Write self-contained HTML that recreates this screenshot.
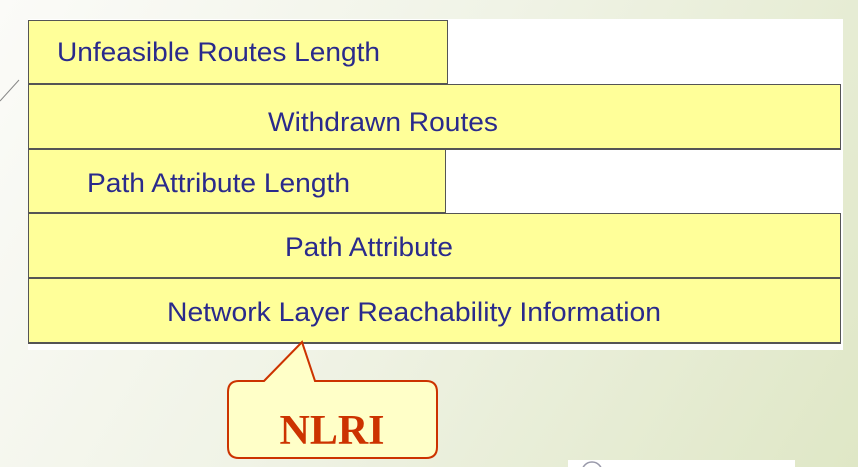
<!DOCTYPE html>
<html><head><style>
body{margin:0;width:858px;height:467px;overflow:hidden;background:linear-gradient(120deg,#fbfbf8 0%,#f0f3e6 45%,#dfe7c6 100%);position:relative;font-family:"Liberation Sans",sans-serif}
.w{position:absolute;left:28px;top:19px;width:815px;height:331px;background:#fff}
.r{position:absolute;box-sizing:border-box;background:#ffff99;border:1px solid #555;border-bottom:2px solid #555}
</style></head><body>
<svg style="position:absolute;left:0;top:0" width="858" height="467">
<line x1="0" y1="101" x2="19" y2="80" stroke="#888" stroke-width="1"/>
</svg>
<div class="w"></div>
<div class="r" style="left:28px;top:20px;width:420px;height:65px"></div>
<div class="r" style="left:28px;top:84px;width:813px;height:66px"></div>
<div class="r" style="left:28px;top:149px;width:418px;height:65px"></div>
<div class="r" style="left:28px;top:213px;width:813px;height:66px"></div>
<div class="r" style="left:28px;top:278px;width:813px;height:66px"></div>
<svg style="position:absolute;left:0;top:0" width="858" height="467">
<g font-family="Liberation Sans,sans-serif" font-size="27" fill="#2a2a8c">
<text x="57" y="61" textLength="323" lengthAdjust="spacingAndGlyphs">Unfeasible Routes Length</text>
<text x="268" y="131" textLength="230" lengthAdjust="spacingAndGlyphs">Withdrawn Routes</text>
<text x="87" y="192" textLength="263" lengthAdjust="spacingAndGlyphs">Path Attribute Length</text>
<text x="285" y="256" textLength="168" lengthAdjust="spacingAndGlyphs">Path Attribute</text>
<text x="167" y="321" textLength="494" lengthAdjust="spacingAndGlyphs">Network Layer Reachability Information</text>
</g>
<path d="M264,381 L302,342 L315,381 L426,381 Q437,381 437,392 L437,447 Q437,458 426,458 L239,458 Q228,458 228,447 L228,392 Q228,381 239,381 Z" fill="#ffffc8" stroke="#cc3300" stroke-width="2"/>
<text x="332" y="444" text-anchor="middle" font-family="Liberation Serif,serif" font-weight="bold" font-size="42" fill="#cc3300">NLRI</text>
<rect x="568" y="460" width="227" height="7" fill="#fff"/>
<circle cx="592" cy="472" r="10" fill="none" stroke="#99a" stroke-width="1.5"/>
</svg>
</body></html>
